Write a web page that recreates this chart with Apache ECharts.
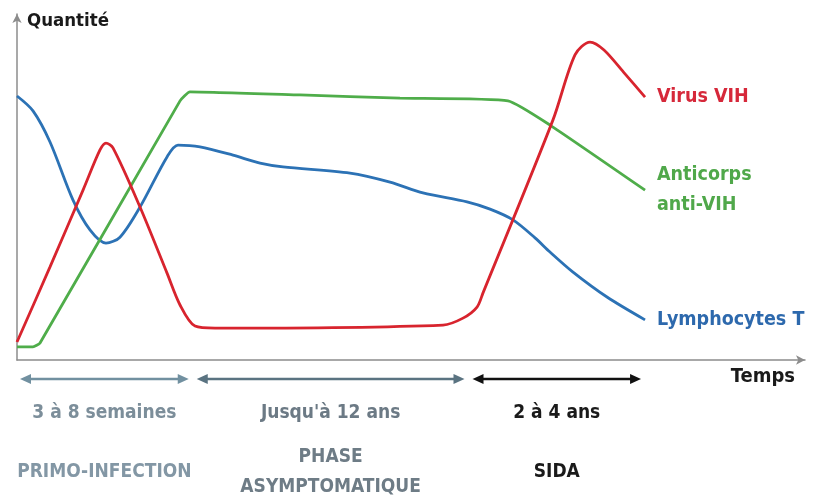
<!DOCTYPE html>
<html>
<head>
<meta charset="utf-8">
<script src="https://cdn.jsdelivr.net/npm/echarts@6/dist/echarts.min.js"></script>
<style>
  html, body { margin: 0; padding: 0; background: #fff; }
  #chart { width: 826px; height: 503px; }
</style>
</head>
<body>
<div id="chart"></div>
<script>
const virusVIH = [
  [0, 5.2], [4.19, 26.9], [8.38, 49.1], [10.53, 60.7], [11.29, 62.7], [12.18, 61.3],
  [15.61, 44.2], [19.04, 25.1], [20.69, 15.9], [22.59, 9.8], [25.13, 9.2], [54.06, 10.1],
  [56.6, 12.1], [58.38, 15.3], [59.14, 19.4], [68.02, 69.4], [70.81, 88.2], [72.72, 91.9],
  [74.49, 89.6], [77.16, 82.7], [79.7, 76.0]
];
const anticorps = [
  [0, 3.8], [2.03, 3.8], [2.92, 4.9], [20.69, 74.9], [21.95, 77.5], [35.91, 76.6],
  [48.6, 75.7], [62.31, 74.9], [67.64, 67.9], [79.7, 49.1]
];
const lymphocytes = [
  [0, 76.3], [2.03, 72.0], [4.19, 63.0], [7.11, 46.2], [9.26, 37.6], [11.29, 33.8],
  [13.07, 35.5], [15.61, 44.2], [19.04, 58.7], [20.43, 62.1], [23.22, 61.6], [27.41, 59.2],
  [30.84, 56.9], [33.76, 55.8], [42.26, 54.0], [47.34, 51.4], [51.52, 48.3], [57.11, 45.7],
  [60.03, 43.6], [62.94, 40.5], [65.74, 35.3], [67.64, 31.2], [70.56, 25.4], [74.87, 18.2],
  [79.7, 11.6]
];
const seriesNames = ['Virus VIH', 'Anticorps\nanti-VIH', 'Lymphocytes T'];

// phases de l'infection
const periodBounds = [0, 22.3, 57.3, 79.7];
const periodDurations = ['3 à 8 semaines', 'Jusqu\'à 12 ans', '2 à 4 ans'];
const periodPhases = ['PRIMO-INFECTION', 'PHASE\nASYMPTOMATIQUE', 'SIDA'];

const FONT = '"DejaVu Sans Condensed", "DejaVu Sans", sans-serif';
const lineColors = ['#d8242e', '#4fad4a', '#2c72b5'];
const labelColors = ['#d6283a', '#50a84a', '#2d69ad'];
const arrowColors = ['#7190a0', '#5a7381', '#111111'];
const durationColors = ['#7c8e9a', '#6c7a85', '#1a1a1a'];
const phaseColors = ['#8397a5', '#6e7c86', '#1a1a1a'];

const chart = echarts.init(document.getElementById('chart'));

const axisCommon = {
  type: 'value',
  min: 0,
  max: 100,
  axisLine: {
    show: true,
    symbol: ['none', 'arrow'],
    symbolSize: [7, 9],
    lineStyle: { color: '#8c8c8c', width: 1.5 }
  },
  axisTick: { show: false },
  axisLabel: { show: false },
  splitLine: { show: false },
  nameTextStyle: { fontFamily: FONT, fontWeight: 'bold', fontSize: 18.5, color: '#1a1a1a' }
};

const makeSeries = (data, i, smooth) => ({
  name: seriesNames[i],
  type: 'line',
  data: data,
  smooth: smooth,
  symbol: 'none',
  lineStyle: { color: lineColors[i], width: 2.8 },
  itemStyle: { color: lineColors[i] },
  endLabel: {
    show: true,
    formatter: '{a}',
    distance: 12,
    color: labelColors[i],
    fontFamily: FONT,
    fontWeight: 'bold',
    fontSize: 19.5,
    lineHeight: 30
  },
  z: 3 - i
});

const option = {
  animation: false,
  grid: { left: 17, right: 21, top: 14, bottom: 143 },
  xAxis: Object.assign({}, axisCommon, {
    name: 'Temps',
    nameLocation: 'end',
    nameGap: -10,
    nameTextStyle: Object.assign({}, axisCommon.nameTextStyle, {
      fontSize: 20, align: 'right', verticalAlign: 'top', padding: [7, 0, 0, 0]
    })
  }),
  yAxis: Object.assign({}, axisCommon, {
    name: 'Quantité',
    nameLocation: 'end',
    nameGap: -7,
    nameTextStyle: Object.assign({}, axisCommon.nameTextStyle, {
      align: 'left', verticalAlign: 'middle', padding: [0, 0, 0, 10]
    })
  }),
  series: [
    makeSeries(virusVIH, 0, 0.3),
    makeSeries(anticorps, 1, 0.15),
    makeSeries(lymphocytes, 2, 0.3)
  ]
};

chart.setOption(option);

// flèches et légendes des phases sous l'axe du temps
const axisY = chart.convertToPixel({ yAxisIndex: 0 }, 0);
const arrowY = axisY + 19;
const durationY = axisY + 53;
const phaseY = axisY + 112;
const textFont = 'bold 19px ' + FONT;
const elements = [];
for (let i = 0; i < periodDurations.length; i++) {
  const x0 = chart.convertToPixel({ xAxisIndex: 0 }, periodBounds[i]) + (i === 0 ? 3 : 4);
  const x1 = chart.convertToPixel({ xAxisIndex: 0 }, periodBounds[i + 1]) - 4;
  const mid = (x0 + x1) / 2;
  const c = arrowColors[i];
  elements.push({
    type: 'line',
    shape: { x1: x0 + 6, y1: arrowY, x2: x1 - 6, y2: arrowY },
    style: { stroke: c, lineWidth: 2.5 }
  });
  elements.push({
    type: 'polygon',
    shape: { points: [[x0, arrowY], [x0 + 11, arrowY - 5], [x0 + 11, arrowY + 5]] },
    style: { fill: c }
  });
  elements.push({
    type: 'polygon',
    shape: { points: [[x1, arrowY], [x1 - 11, arrowY - 5], [x1 - 11, arrowY + 5]] },
    style: { fill: c }
  });
  elements.push({
    type: 'text',
    x: mid, y: durationY,
    style: {
      text: periodDurations[i], fill: durationColors[i], font: textFont,
      align: 'center', verticalAlign: 'middle'
    }
  });
  elements.push({
    type: 'text',
    x: mid, y: phaseY,
    style: {
      text: periodPhases[i], fill: phaseColors[i], font: textFont,
      align: 'center', verticalAlign: 'middle', lineHeight: 30
    }
  });
}
chart.setOption({ graphic: elements });

window.addEventListener('resize', () => chart.resize());
</script>
</body>
</html>
